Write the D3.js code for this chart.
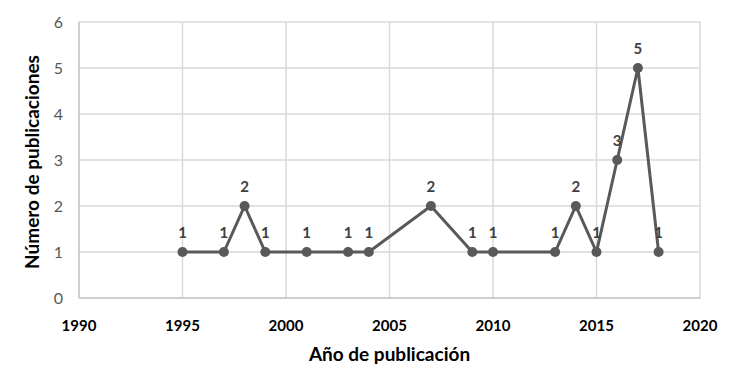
<!DOCTYPE html>
<html>
<head>
<meta charset="utf-8">
<script src="https://cdn.jsdelivr.net/npm/d3@7"></script>
<style>
  body { margin: 0; background: #fff; }
  svg text { font-family: Lato, "Open Sans", sans-serif; }
</style>
</head>
<body>
<svg id="chart" width="741" height="369"></svg>
<script>
const years = [1995, 1997, 1998, 1999, 2001, 2003, 2004, 2007, 2009, 2010, 2013, 2014, 2015, 2016, 2017, 2018];
const counts = [1, 1, 2, 1, 1, 1, 1, 2, 1, 1, 1, 2, 1, 3, 5, 1];
const xTicks = [1990, 1995, 2000, 2005, 2010, 2015, 2020];
const yTicks = [0, 1, 2, 3, 4, 5, 6];

const data = years.map((y, i) => ({ year: y, n: counts[i] }));

const svg = d3.select("#chart");
const margin = { top: 22, right: 41, bottom: 71, left: 79 };
const width = 741 - margin.left - margin.right;
const height = 369 - margin.top - margin.bottom;

const g = svg.append("g").attr("transform", "translate(" + margin.left + "," + margin.top + ")");

const x = d3.scaleLinear().domain([1990, 2020]).range([0, width]);
const y = d3.scaleLinear().domain([0, 6]).range([height, 0]);

// grid
g.selectAll(".hgrid").data(yTicks.slice(1)).enter().append("line")
  .attr("x1", 0).attr("x2", width)
  .attr("y1", d => y(d)).attr("y2", d => y(d))
  .attr("stroke", "#d9d9d9").attr("stroke-width", 1.5);
g.selectAll(".vgrid").data(xTicks.slice(1)).enter().append("line")
  .attr("y1", 0).attr("y2", height)
  .attr("x1", d => x(d)).attr("x2", d => x(d))
  .attr("stroke", "#d9d9d9").attr("stroke-width", 1.5);

// axes lines
g.append("line").attr("x1", 0).attr("x2", 0).attr("y1", 0).attr("y2", height)
  .attr("stroke", "#bfbfbf").attr("stroke-width", 1.5);
g.append("line").attr("x1", 0).attr("x2", width).attr("y1", height).attr("y2", height)
  .attr("stroke", "#bfbfbf").attr("stroke-width", 1.5);

// tick labels
g.selectAll(".ylab").data(yTicks).enter().append("text")
  .attr("x", -16).attr("y", d => y(d)).attr("dy", "0.35em")
  .attr("text-anchor", "end").attr("fill", "#595959").attr("font-size", 16)
  .text(d => d);
g.selectAll(".xlab").data(xTicks).enter().append("text")
  .attr("x", d => x(d)).attr("y", height + 33)
  .attr("text-anchor", "middle").attr("fill", "#000").attr("font-size", 15).attr("font-weight", "bold")
  .text(d => d);

// axis titles
svg.append("text").attr("x", margin.left + width / 2).attr("y", 361)
  .attr("text-anchor", "middle").attr("font-size", 19).attr("font-weight", "bold").attr("fill", "#000")
  .text("Año de publicación");
svg.append("text").attr("transform", "translate(39," + (margin.top + height / 2 + 2) + ") rotate(-90)")
  .attr("text-anchor", "middle").attr("font-size", 19).attr("font-weight", "bold").attr("fill", "#000")
  .text("Número de publicaciones");

// line
const line = d3.line().x(d => x(d.year)).y(d => y(d.n));
g.append("path").datum(data).attr("d", line)
  .attr("fill", "none").attr("stroke", "#595959").attr("stroke-width", 3);

g.selectAll(".pt").data(data).enter().append("circle")
  .attr("cx", d => x(d.year)).attr("cy", d => y(d.n)).attr("r", 5)
  .attr("fill", "#595959");

g.selectAll(".val").data(data).enter().append("text")
  .attr("x", d => x(d.year)).attr("y", d => y(d.n) - 14)
  .attr("text-anchor", "middle").attr("font-size", 15).attr("font-weight", "bold").attr("fill", "#404040")
  .text(d => d.n);
</script>
</body>
</html>
